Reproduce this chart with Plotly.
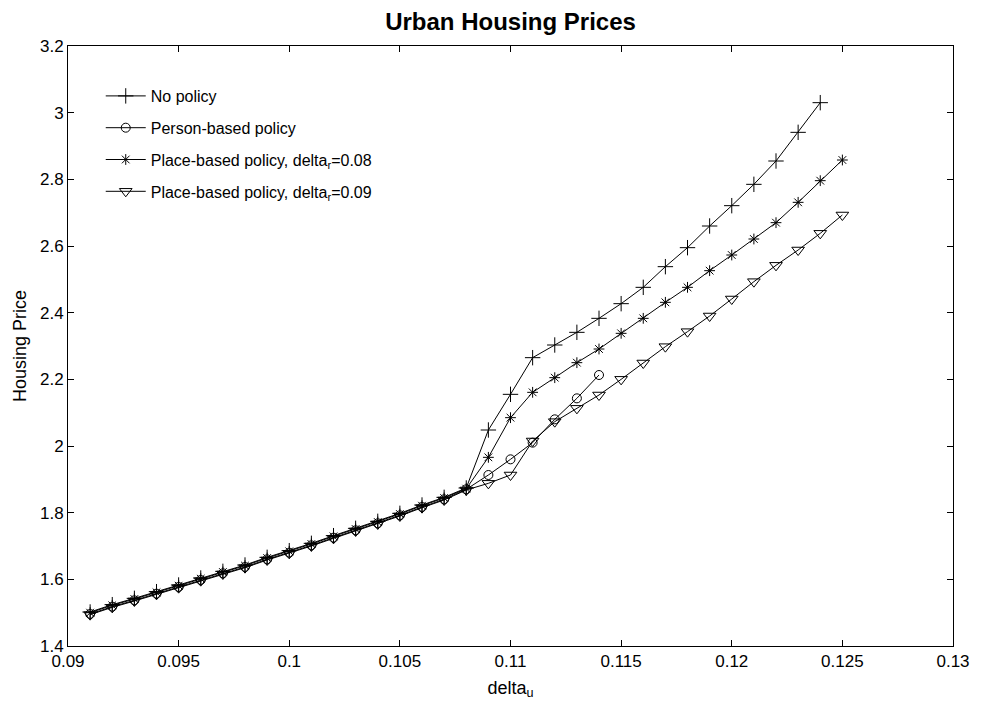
import plotly.graph_objects as go

# ---- data ----
x_long = [0.091, 0.092, 0.093, 0.094, 0.095, 0.096, 0.097, 0.098, 0.099, 0.100,
          0.101, 0.102, 0.103, 0.104, 0.105, 0.106, 0.107, 0.108, 0.109, 0.110,
          0.111, 0.112, 0.113, 0.114, 0.115, 0.116, 0.117, 0.118, 0.119, 0.120,
          0.121, 0.122, 0.123, 0.124, 0.125]

no_policy = [1.502, 1.524, 1.543, 1.563, 1.583, 1.604, 1.624, 1.643, 1.666, 1.686,
             1.708, 1.731, 1.753, 1.774, 1.798, 1.823, 1.846, 1.874, 2.048, 2.155,
             2.265, 2.303, 2.341, 2.383, 2.427, 2.476, 2.538, 2.595, 2.660, 2.721,
             2.785, 2.855, 2.941, 3.030]

person_based = [1.496, 1.518, 1.537, 1.557, 1.577, 1.598, 1.618, 1.637, 1.660, 1.680,
                1.702, 1.725, 1.747, 1.768, 1.792, 1.817, 1.840, 1.870, 1.913, 1.960,
                2.010, 2.080, 2.143, 2.213]

place_008 = [1.500, 1.522, 1.541, 1.561, 1.581, 1.602, 1.622, 1.641, 1.664, 1.684,
             1.706, 1.729, 1.751, 1.772, 1.796, 1.821, 1.844, 1.872, 1.966, 2.085,
             2.161, 2.205, 2.250, 2.291, 2.338, 2.383, 2.431, 2.476, 2.526, 2.573,
             2.621, 2.670, 2.731, 2.796, 2.858]

place_009 = [1.494, 1.516, 1.535, 1.555, 1.575, 1.596, 1.616, 1.635, 1.658, 1.678,
             1.700, 1.723, 1.745, 1.766, 1.790, 1.815, 1.838, 1.868, 1.888, 1.913,
             2.015, 2.073, 2.113, 2.153, 2.200, 2.249, 2.298, 2.343, 2.390, 2.441,
             2.493, 2.542, 2.588, 2.638, 2.693]

x_ticks = [0.09, 0.095, 0.1, 0.105, 0.11, 0.115, 0.12, 0.125, 0.13]
x_tick_labels = ["0.09", "0.095", "0.1", "0.105", "0.11", "0.115", "0.12", "0.125", "0.13"]
y_ticks = [1.4, 1.6, 1.8, 2.0, 2.2, 2.4, 2.6, 2.8, 3.0, 3.2]
y_tick_labels = ["1.4", "1.6", "1.8", "2", "2.2", "2.4", "2.6", "2.8", "3", "3.2"]

series_names = ["No policy", "Person-based policy",
                "Place-based policy, delta<sub>r</sub>=0.08",
                "Place-based policy, delta<sub>r</sub>=0.09"]

FONT = "Liberation Sans, Arial, sans-serif"

fig = go.Figure()
specs = [
    (no_policy, "cross-thin-open", 11),
    (person_based, "circle-open", 9),
    (place_008, "asterisk-open", 9),
    (place_009, "triangle-down-open", 11),
]
for i, ((ys, sym, sz), name) in enumerate(zip(specs, series_names)):
    fig.add_trace(go.Scatter(
        x=x_long[:len(ys)], y=ys, mode="lines+markers", name=name,
        legendgroup="g%d" % i,
        line=dict(color="black", width=1),
        marker=dict(symbol=sym, size=sz, color="black",
                    line=dict(color="black", width=1)),
    ))

axis_common = dict(
    showline=True, linecolor="black", linewidth=1, mirror="ticks",
    ticks="inside", ticklen=6, tickcolor="black", showgrid=False,
    zeroline=False, tickfont=dict(family=FONT, size=17, color="black"),
)

fig.update_layout(
    width=982, height=706,
    paper_bgcolor="white", plot_bgcolor="white",
    margin=dict(l=68, r=24, t=46, b=60),
    title=dict(text="<b>Urban Housing Prices</b>", x=0.5, xref="paper",
               y=0.969, yanchor="middle",
               font=dict(family=FONT, size=24, color="black")),
    xaxis=dict(range=[0.09, 0.13], tickvals=x_ticks, ticktext=x_tick_labels,
               ticklabelstandoff=0,
               title=dict(text="delta<sub>u</sub>", standoff=10,
                          font=dict(family=FONT, size=18, color="black")),
               **axis_common),
    yaxis=dict(range=[1.4, 3.2], tickvals=y_ticks, ticktext=y_tick_labels,
               title=dict(text="Housing Price", standoff=8,
                          font=dict(family=FONT, size=18, color="black")),
               **axis_common),
    legend=dict(x=0.037, y=0.945, xanchor="left", yanchor="top",
                bgcolor="rgba(0,0,0,0)", borderwidth=0,
                traceorder="grouped", tracegroupgap=8, itemwidth=40,
                font=dict(family=FONT, size=16, color="black")),
    showlegend=True,
)

fig.write_html("out.html", config={"displayModeBar": False},
               post_script="document.body.style.margin='0';")
